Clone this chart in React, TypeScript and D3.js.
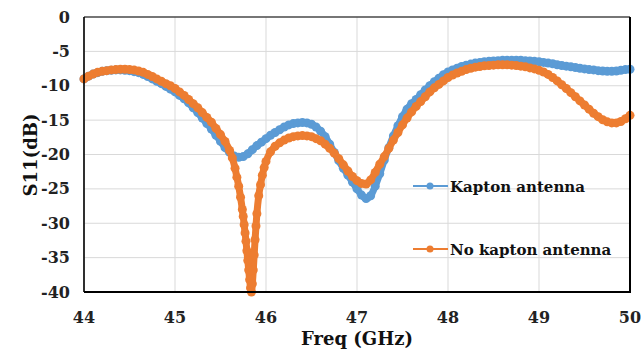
import React from 'react'
import * as d3 from 'd3'

// Frequency (GHz) and S11 (dB)
const kaptonFreq = [
  44.0, 44.05, 44.1, 44.15, 44.2, 44.25, 44.3, 44.35, 44.4, 44.45, 44.5, 44.55, 44.6, 44.65, 44.7, 44.75, 44.8,
  44.85, 44.9, 44.95, 45.0, 45.05, 45.1, 45.15, 45.2, 45.25, 45.3, 45.35, 45.4, 45.45, 45.5, 45.55, 45.6, 45.65,
  45.7, 45.75, 45.8, 45.85, 45.9, 45.95, 46.0, 46.05, 46.1, 46.15, 46.2, 46.25, 46.3, 46.35, 46.4, 46.45, 46.5,
  46.55, 46.6, 46.65, 46.7, 46.75, 46.8, 46.85, 46.9, 46.95, 47.0, 47.05, 47.1, 47.15, 47.2, 47.25, 47.3, 47.35,
  47.4, 47.45, 47.5, 47.55, 47.6, 47.65, 47.7, 47.75, 47.8, 47.85, 47.9, 47.95, 48.0, 48.05, 48.1, 48.15, 48.2,
  48.25, 48.3, 48.35, 48.4, 48.45, 48.5, 48.55, 48.6, 48.65, 48.7, 48.75, 48.8, 48.85, 48.9, 48.95, 49.0, 49.05,
  49.1, 49.15, 49.2, 49.25, 49.3, 49.35, 49.4, 49.45, 49.5, 49.55, 49.6, 49.65, 49.7, 49.75, 49.8, 49.85, 49.9,
  49.95, 50.0,
]
const kaptonS11 = [
  -9.0, -8.6, -8.3, -8.1, -7.9, -7.8, -7.75, -7.7, -7.7, -7.75, -7.8, -7.95, -8.1, -8.35, -8.65, -9.0, -9.35,
  -9.7, -10.1, -10.5, -10.9, -11.4, -11.9, -12.5, -13.2, -13.9, -14.7, -15.5, -16.3, -17.2, -18.1, -19.0, -19.7,
  -20.2, -20.4, -20.3, -19.9, -19.3, -18.7, -18.2, -17.7, -17.2, -16.8, -16.4, -16.0, -15.7, -15.5, -15.4,
  -15.35, -15.4, -15.6, -16.0, -16.6, -17.4, -18.5, -19.7, -20.9, -22.0, -23.0, -24.0, -25.0, -25.9, -26.4,
  -26.0, -24.6, -22.8, -20.8, -19.0, -17.3, -15.8, -14.5, -13.4, -12.6, -12.0, -11.3, -10.6, -10.0, -9.4, -8.9,
  -8.4, -8.0, -7.7, -7.45, -7.2, -7.0, -6.85, -6.7, -6.6, -6.5, -6.45, -6.4, -6.35, -6.3, -6.3, -6.3, -6.3,
  -6.3, -6.35, -6.4, -6.45, -6.5, -6.6, -6.7, -6.8, -6.95, -7.05, -7.15, -7.25, -7.35, -7.45, -7.55, -7.65,
  -7.7, -7.8, -7.85, -7.9, -7.9, -7.85, -7.75, -7.65, -7.6,
]

const noKaptonFreq = [
  44.0, 44.05, 44.1, 44.15, 44.2, 44.25, 44.3, 44.35, 44.4, 44.45, 44.5, 44.55, 44.6, 44.65, 44.7, 44.75, 44.8,
  44.85, 44.9, 44.95, 45.0, 45.05, 45.1, 45.15, 45.2, 45.25, 45.3, 45.35, 45.4, 45.45, 45.5, 45.55, 45.6, 45.63,
  45.66, 45.68, 45.7, 45.72, 45.74, 45.75, 45.76, 45.77, 45.78, 45.79, 45.8, 45.81, 45.82, 45.83, 45.84, 45.85,
  45.86, 45.87, 45.88, 45.89, 45.9, 45.92, 45.94, 45.96, 45.98, 46.0, 46.05, 46.1, 46.15, 46.2, 46.25, 46.3,
  46.35, 46.4, 46.45, 46.5, 46.55, 46.6, 46.65, 46.7, 46.75, 46.8, 46.85, 46.9, 46.95, 47.0, 47.05, 47.1, 47.15,
  47.2, 47.25, 47.3, 47.35, 47.4, 47.45, 47.5, 47.55, 47.6, 47.65, 47.7, 47.75, 47.8, 47.85, 47.9, 47.95, 48.0,
  48.05, 48.1, 48.15, 48.2, 48.25, 48.3, 48.35, 48.4, 48.45, 48.5, 48.55, 48.6, 48.65, 48.7, 48.75, 48.8, 48.85,
  48.9, 48.95, 49.0, 49.05, 49.1, 49.15, 49.2, 49.25, 49.3, 49.35, 49.4, 49.45, 49.5, 49.55, 49.6, 49.65, 49.7,
  49.75, 49.8, 49.85, 49.9, 49.95, 50.0,
]
const noKaptonS11 = [
  -9.0, -8.6, -8.3, -8.05, -7.9, -7.8, -7.7, -7.65, -7.6, -7.6, -7.65, -7.7, -7.85, -8.05, -8.35, -8.65, -9.0,
  -9.35, -9.7, -10.0, -10.4, -10.9, -11.4, -12.0, -12.6, -13.2, -13.9, -14.6, -15.3, -16.2, -17.1, -18.1, -19.4,
  -20.5, -22.0, -23.3, -24.6, -26.2, -28.0, -29.0, -30.2, -31.4, -32.6, -34.0, -35.4, -36.8, -38.2, -39.4, -40.0,
  -38.8, -36.8, -34.6, -32.4, -30.4, -28.6, -26.0, -24.4, -23.0, -21.9, -21.0, -19.6, -18.8, -18.3, -17.9,
  -17.6, -17.4, -17.3, -17.25, -17.3, -17.4, -17.7, -18.0, -18.5, -19.1, -19.8, -20.6, -21.5, -22.4, -23.2,
  -23.8, -24.2, -24.3, -23.7, -22.6, -21.4, -20.3, -19.1, -17.9, -16.8, -15.7, -14.7, -13.8, -13.0, -12.3,
  -11.6, -10.9, -10.3, -9.8, -9.3, -8.8, -8.45, -8.15, -7.9, -7.65, -7.45, -7.3, -7.2, -7.1, -7.05, -7.0,
  -6.95, -6.95, -6.95, -7.0, -7.05, -7.15, -7.25, -7.4, -7.55, -7.75, -8.0, -8.35, -8.8, -9.3, -9.85, -10.4,
  -11.0, -11.6, -12.2, -12.8, -13.4, -14.0, -14.5, -14.95, -15.25, -15.4, -15.4, -15.2, -14.8, -14.3,
]

const xTicks = [44, 45, 46, 47, 48, 49, 50]
const yTicks = [0, -5, -10, -15, -20, -25, -30, -35, -40]

const series = [
  { name: 'Kapton antenna', color: '#5B9BD5', freq: kaptonFreq, s11: kaptonS11 },
  { name: 'No kapton antenna', color: '#ED7D31', freq: noKaptonFreq, s11: noKaptonS11 },
]

const W = 641
const H = 356
const FONT = 'DejaVu Serif'

export default function App() {
  const x = d3.scaleLinear().domain([44, 50]).range([84, 630])
  const y = d3.scaleLinear().domain([0, -40]).range([17, 292])

  const line = d3
    .line<[number, number]>()
    .x(d => x(d[0]))
    .y(d => y(d[1]))
    .curve(d3.curveMonotoneX)

  return (
    <svg
      width={W}
      height={H}
      fontFamily={FONT}
      fontWeight="bold"
      style={{ position: 'absolute', left: 0, top: 0, background: '#fff' }}
    >
      {/* grid */}
      {yTicks.map(t => (
        <line key={'gy' + t} x1={84} x2={630} y1={y(t)} y2={y(t)} stroke="#d9d9d9" strokeWidth={1} />
      ))}
      {xTicks.map(t => (
        <line key={'gx' + t} x1={x(t)} x2={x(t)} y1={17} y2={292} stroke="#d9d9d9" strokeWidth={1} />
      ))}

      {/* series: thick line plus dense markers, like the Excel original */}
      {series.map(s => {
        const pts = s.freq.map((f, i) => [f, s.s11[i]] as [number, number])
        return (
          <g key={s.name}>
            <path d={line(pts) || ''} fill="none" stroke={s.color} strokeWidth={7} strokeLinejoin="round" />
            {pts.map((p, i) => (
              <circle key={i} cx={x(p[0])} cy={y(p[1])} r={4.5} fill={s.color} />
            ))}
          </g>
        )
      })}

      {/* frame */}
      <line x1={84} x2={630} y1={17} y2={17} stroke="#000" strokeWidth={1.2} />
      <line x1={84} x2={84} y1={17} y2={292} stroke="#000" strokeWidth={1.6} />
      <line x1={84} x2={631} y1={292} y2={292} stroke="#000" strokeWidth={2} />
      <line x1={630} x2={630} y1={17} y2={293} stroke="#000" strokeWidth={2} />

      {/* y tick labels */}
      {yTicks.map(t => (
        <text key={'ty' + t} x={70} y={y(t)} dy="0.35em" textAnchor="end" fontSize={16} fill="#222">
          {t}
        </text>
      ))}
      {/* x tick labels */}
      {xTicks.map(t => (
        <text key={'tx' + t} x={x(t)} y={323} textAnchor="middle" fontSize={16} fill="#222">
          {t}
        </text>
      ))}

      {/* axis titles */}
      <text x={357} y={345} textAnchor="middle" fontSize={18} fill="#111">
        Freq (GHz)
      </text>
      <text transform="translate(37, 155) rotate(-90)" textAnchor="middle" fontSize={18} fill="#111">
        S11(dB)
      </text>

      {/* legend */}
      {series.map((s, i) => {
        const ly = 186 + i * 63
        return (
          <g key={'lg' + s.name}>
            <line x1={413} x2={448} y1={ly} y2={ly} stroke={s.color} strokeWidth={2} />
            <circle cx={430} cy={ly} r={3.5} fill={s.color} />
            <text x={450} y={ly + 6} fontSize={15} fill="#111">
              {s.name}
            </text>
          </g>
        )
      })}
    </svg>
  )
}
